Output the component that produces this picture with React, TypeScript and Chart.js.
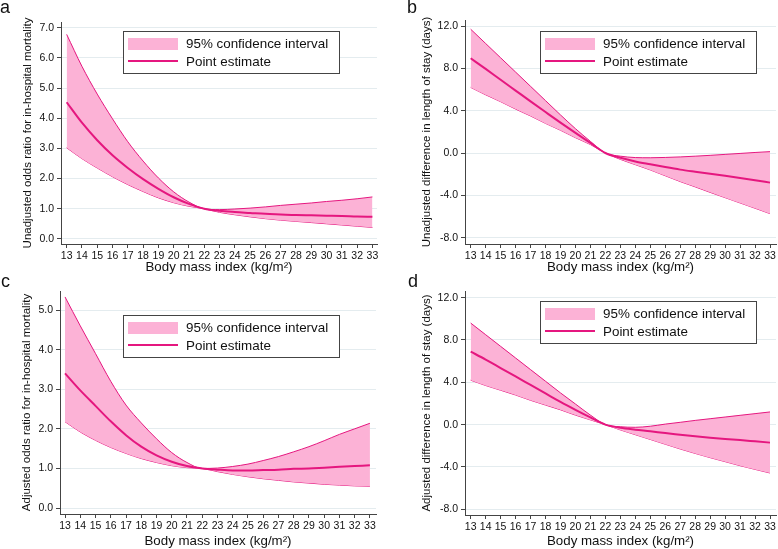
import React, { useEffect, useRef } from "react";
import { Chart, registerables } from "chart.js";

Chart.register(...registerables);
Chart.defaults.font.family = "'Liberation Sans', Arial, Helvetica, sans-serif";

// ---------------- data ----------------
const bmi = [13, 14, 15, 16, 17, 18, 19, 20, 21, 22, 23, 24, 25, 26, 27, 28, 29, 30, 31, 32, 33];
const xTicks = bmi;
const orTicksA = [0, 1, 2, 3, 4, 5, 6, 7];
const orTicksC = [0, 1, 2, 3, 4, 5];
const losTicks = [-8, -4, 0, 4, 8, 12];

const aUpper = [6.78, 5.72, 4.8, 3.98, 3.22, 2.58, 2.02, 1.56, 1.22, 1.0, 0.97, 0.99, 1.02, 1.06, 1.11, 1.15, 1.19, 1.24, 1.28, 1.33, 1.39];
const aPoint = [4.53, 3.85, 3.27, 2.77, 2.35, 1.98, 1.66, 1.38, 1.16, 1.0, 0.93, 0.89, 0.86, 0.83, 0.81, 0.79, 0.78, 0.77, 0.76, 0.74, 0.73];
const aLower = [3.02, 2.66, 2.35, 2.06, 1.8, 1.57, 1.36, 1.2, 1.08, 1.0, 0.88, 0.8, 0.73, 0.67, 0.62, 0.58, 0.54, 0.5, 0.46, 0.42, 0.38];

const bUpper = [11.7, 10.35, 9.0, 7.65, 6.3, 4.95, 3.6, 2.3, 1.1, 0.0, -0.3, -0.43, -0.45, -0.42, -0.37, -0.3, -0.22, -0.13, -0.04, 0.05, 0.13];
const bPoint = [8.95, 7.95, 6.92, 5.9, 4.88, 3.87, 2.87, 1.9, 0.95, 0.0, -0.45, -0.8, -1.07, -1.33, -1.57, -1.77, -1.96, -2.16, -2.37, -2.58, -2.8];
const bLower = [6.2, 5.5, 4.85, 4.15, 3.5, 2.8, 2.15, 1.45, 0.8, 0.0, -0.6, -1.1, -1.6, -2.15, -2.7, -3.2, -3.72, -4.22, -4.72, -5.22, -5.73];

const cUpper = [5.33, 4.6, 3.9, 3.2, 2.6, 2.15, 1.75, 1.4, 1.15, 1.0, 1.01, 1.05, 1.11, 1.2, 1.3, 1.42, 1.55, 1.7, 1.86, 2.0, 2.14];
const cPoint = [3.4, 2.97, 2.58, 2.19, 1.84, 1.55, 1.33, 1.17, 1.06, 1.0, 0.97, 0.95, 0.95, 0.96, 0.97, 0.99, 1.0, 1.02, 1.04, 1.06, 1.08];
const cLower = [2.18, 1.92, 1.71, 1.53, 1.38, 1.25, 1.15, 1.07, 1.02, 1.0, 0.92, 0.85, 0.79, 0.74, 0.7, 0.66, 0.63, 0.6, 0.58, 0.56, 0.55];

const dUpper = [9.6, 8.5, 7.4, 6.3, 5.2, 4.1, 3.0, 1.95, 0.9, 0.0, -0.2, -0.25, -0.15, 0.05, 0.22, 0.4, 0.56, 0.72, 0.88, 1.04, 1.2];
const dPoint = [6.9, 6.15, 5.35, 4.55, 3.75, 2.95, 2.15, 1.4, 0.68, 0.0, -0.3, -0.48, -0.63, -0.8, -0.95, -1.1, -1.23, -1.35, -1.46, -1.58, -1.7];
const dLower = [4.2, 3.7, 3.25, 2.8, 2.3, 1.85, 1.4, 0.9, 0.45, 0.0, -0.5, -0.95, -1.4, -1.85, -2.3, -2.72, -3.12, -3.5, -3.88, -4.23, -4.57];

const legendLabels = ["95% confidence interval", "Point estimate"];
const xTitle = "Body mass index (kg/m²)";
const yTitles = [
  "Unadjusted odds ratio for in-hospital mortality",
  "Unadjusted difference in length of stay (days)",
  "Adjusted odds ratio for in-hospital mortality",
  "Adjusted difference in length of stay (days)",
];
const panelLetters = ["a", "b", "c", "d"];

// ---------------- styles ----------------
const BAND = "#fcb2d6";
const LINE = "#e5177f";
const GRID = "#e4ecef";
const AXIS = "#444444";
const TEXT = "#111111";

type Panel = {
  letter: string;
  letterPos: { left: number; top: number };
  canvas: { left: number; top: number; w: number; h: number };
  area: { left: number; right: number; top: number; bottom: number };
  xRange: [number, number];
  yRange: [number, number];
  yTicks: number[];
  yTitle: string;
  yTitlePad: number;
  upper: number[];
  point: number[];
  lower: number[];
  legend: { x: number; y: number };
};

const panels: Panel[] = [
  {
    letter: panelLetters[0], letterPos: { left: 0, top: -2 },
    canvas: { left: 0, top: 0, w: 389, h: 275 },
    area: { left: 61, right: 377, top: 22, bottom: 244 },
    xRange: [12.63, 33.3], yRange: [-0.17, 7.19], yTicks: orTicksA,
    yTitle: yTitles[0], yTitlePad: 21,
    upper: aUpper, point: aPoint, lower: aLower,
    legend: { x: 123, y: 31 },
  },
  {
    letter: panelLetters[1], letterPos: { left: 407, top: -2 },
    canvas: { left: 389, top: 0, w: 389, h: 275 },
    area: { left: 76, right: 387, top: 20, bottom: 244 },
    xRange: [12.62, 33.4], yRange: [-8.6, 12.57], yTicks: losTicks,
    yTitle: yTitles[1], yTitlePad: 31,
    upper: bUpper, point: bPoint, lower: bLower,
    legend: { x: 151, y: 31 },
  },
  {
    letter: panelLetters[2], letterPos: { left: 1, top: 272 },
    canvas: { left: 0, top: 275, w: 389, h: 274 },
    area: { left: 60, right: 376, top: 16, bottom: 239 },
    xRange: [12.67, 33.4], yRange: [-0.15, 5.48], yTicks: orTicksC,
    yTitle: yTitles[2], yTitlePad: 20,
    upper: cUpper, point: cPoint, lower: cLower,
    legend: { x: 123, y: 40 },
  },
  {
    letter: panelLetters[3], letterPos: { left: 408, top: 272 },
    canvas: { left: 389, top: 275, w: 389, h: 274 },
    area: { left: 76, right: 387, top: 16, bottom: 240 },
    xRange: [12.62, 33.4], yRange: [-8.54, 12.63], yTicks: losTicks,
    yTitle: yTitles[3], yTitlePad: 31,
    upper: dUpper, point: dPoint, lower: dLower,
    legend: { x: 151, y: 26 },
  },
];

const boxLegendPlugin = {
  id: "boxLegend",
  afterDraw(chart: any, _args: any, opts: any) {
    const ctx = chart.ctx as CanvasRenderingContext2D;
    const x = opts.x;
    const y = opts.y;
    const w = 216;
    const h = 42;
    ctx.save();
    ctx.fillStyle = "#ffffff";
    ctx.fillRect(x, y, w, h);
    ctx.strokeStyle = AXIS;
    ctx.lineWidth = 1;
    ctx.strokeRect(x + 0.5, y + 0.5, w, h);
    ctx.fillStyle = BAND;
    ctx.fillRect(x + 5, y + 7, 50, 12);
    ctx.strokeStyle = LINE;
    ctx.lineWidth = 2;
    ctx.beginPath();
    ctx.moveTo(x + 5, y + 30);
    ctx.lineTo(x + 55, y + 30);
    ctx.stroke();
    ctx.fillStyle = TEXT;
    ctx.font = "13.4px 'Liberation Sans', Arial, sans-serif";
    ctx.textAlign = "left";
    ctx.textBaseline = "middle";
    ctx.fillText(legendLabels[0], x + 63, y + 13.5);
    ctx.fillText(legendLabels[1], x + 63, y + 31);
    ctx.restore();
  },
};

function PanelChart({ p }: { p: Panel }) {
  const ref = useRef<HTMLCanvasElement | null>(null);
  useEffect(() => {
    if (!ref.current) return;
    const pts = (arr: number[]) => bmi.map((x, i) => ({ x, y: arr[i] }));
    const chart = new Chart(ref.current, {
      type: "line",
      data: {
        datasets: [
          {
            label: legendLabels[1],
            data: pts(p.point),
            borderColor: LINE,
            borderWidth: 2,
            pointRadius: 0,
            fill: false,
            cubicInterpolationMode: "monotone",
          },
          {
            label: legendLabels[0],
            data: pts(p.upper),
            borderColor: LINE,
            borderWidth: 1,
            pointRadius: 0,
            fill: "+1",
            backgroundColor: BAND,
            cubicInterpolationMode: "monotone",
          },
          {
            label: "lower",
            data: pts(p.lower),
            borderColor: LINE,
            borderWidth: 1,
            pointRadius: 0,
            fill: false,
            cubicInterpolationMode: "monotone",
          },
        ],
      },
      options: {
        animation: false,
        responsive: false,
        layout: {
          padding: { top: p.area.top, right: p.canvas.w - p.area.right, left: 0, bottom: 0 },
        },
        plugins: {
          legend: { display: false },
          tooltip: { enabled: false },
          boxLegend: p.legend,
        } as any,
        scales: {
          x: {
            type: "linear",
            min: p.xRange[0],
            max: p.xRange[1],
            afterBuildTicks: (s: any) => {
              s.ticks = xTicks.map((v) => ({ value: v }));
            },
            afterFit: (s: any) => {
              s.height = p.canvas.h - p.area.bottom;
              s.paddingLeft = 0;
              s.paddingRight = 0;
            },
            ticks: {
              autoSkip: false,
              maxRotation: 0,
              minRotation: 0,
              padding: 2,
              color: TEXT,
              font: { size: 10.5 },
              callback: (v: any) => String(v),
            },
            grid: { drawOnChartArea: false, tickLength: 4, tickColor: AXIS, color: AXIS },
            border: { color: AXIS, width: 1 },
            title: {
              display: true,
              text: xTitle,
              color: TEXT,
              font: { size: 13.3 },
              padding: { top: 0, bottom: 0 },
            },
          },
          y: {
            type: "linear",
            min: p.yRange[0],
            max: p.yRange[1],
            afterBuildTicks: (s: any) => {
              s.ticks = p.yTicks.map((v) => ({ value: v }));
            },
            afterFit: (s: any) => {
              s.width = p.area.left;
              s.paddingTop = 0;
              s.paddingBottom = 0;
            },
            ticks: {
              padding: 3,
              color: TEXT,
              font: { size: 10.5 },
              callback: (v: any) => Number(v).toFixed(1),
            },
            grid: { color: GRID, tickLength: 4, tickColor: AXIS, lineWidth: 1 },
            border: { color: AXIS, width: 1 },
            title: {
              display: true,
              text: p.yTitle,
              color: TEXT,
              font: { size: 11.5 },
              padding: { top: p.yTitlePad, bottom: 0 },
            },
          },
        },
      } as any,
      plugins: [boxLegendPlugin as any],
    });
    return () => chart.destroy();
  }, [p]);
  return (
    <canvas
      ref={ref}
      width={p.canvas.w}
      height={p.canvas.h}
      style={{
        position: "absolute",
        left: p.canvas.left,
        top: p.canvas.top,
        width: p.canvas.w,
        height: p.canvas.h,
      }}
    />
  );
}

export default function App() {
  return (
    <div
      style={{
        position: "absolute",
        left: 0,
        top: 0,
        width: 778,
        height: 549,
        background: "#ffffff",
        overflow: "hidden",
        fontFamily: "'Liberation Sans', Arial, sans-serif",
      }}
    >
      {panels.map((p) => (
        <PanelChart key={p.letter} p={p} />
      ))}
      {panels.map((p) => (
        <div
          key={"l" + p.letter}
          style={{
            position: "absolute",
            left: p.letterPos.left,
            top: p.letterPos.top,
            fontSize: 18,
            lineHeight: "18px",
            color: TEXT,
          }}
        >
          {p.letter}
        </div>
      ))}
    </div>
  );
}
